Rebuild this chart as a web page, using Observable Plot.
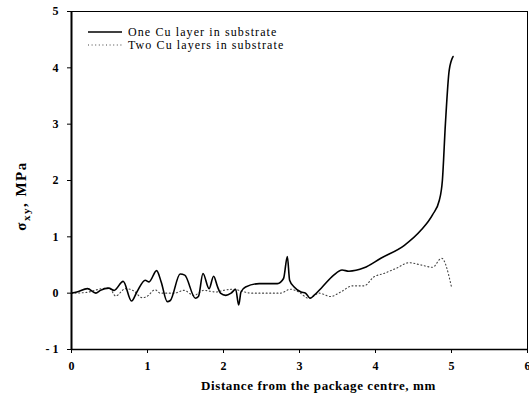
<!DOCTYPE html>
<html>
<head>
<meta charset="utf-8">
<script src="https://cdn.jsdelivr.net/npm/d3@7"></script>
<script src="https://cdn.jsdelivr.net/npm/@observablehq/plot@0.6"></script>
<style>
  html, body { margin: 0; padding: 0; background: #fff; }
  #chart svg { display: block; }
</style>
</head>
<body>
<div id="chart"></div>
<script>
// One Cu layer in substrate (solid)
const oneX = [0, 0.07, 0.21, 0.32, 0.38, 0.49, 0.56, 0.68, 0.79, 0.86, 0.97, 1.02, 1.12, 1.18, 1.26, 1.30, 1.43, 1.49, 1.63, 1.67, 1.73, 1.81, 1.87, 1.92, 1.96, 2.03, 2.10, 2.16, 2.20, 2.23, 2.29, 2.47, 2.71, 2.79, 2.84, 2.87, 2.93, 3.02, 3.08, 3.14, 3.19, 3.30, 3.45, 3.56, 3.65, 3.85, 4.07, 4.38, 4.60, 4.75, 4.84, 4.88, 4.92, 4.97, 5.02];
const oneY = [0, 0.02, 0.08, 0.0, 0.05, 0.09, 0.05, 0.21, -0.14, 0.02, 0.23, 0.20, 0.40, 0.20, -0.15, -0.13, 0.34, 0.32, -0.09, -0.06, 0.35, 0.08, 0.30, 0.12, 0.0, -0.04, 0.0, 0.07, -0.21, 0.02, 0.11, 0.17, 0.17, 0.26, 0.65, 0.23, 0.11, 0.02, 0.0, -0.09, -0.04, 0.11, 0.32, 0.41, 0.39, 0.45, 0.62, 0.85, 1.12, 1.39, 1.65, 2.0, 3.01, 3.96, 4.2];
// Two Cu layers in substrate (dotted)
const twoX = [0, 0.18, 0.40, 0.50, 0.58, 0.71, 0.82, 0.93, 0.99, 1.10, 1.17, 1.35, 1.48, 1.61, 1.74, 1.90, 2.0, 2.14, 2.23, 2.36, 2.66, 2.75, 2.88, 2.99, 3.12, 3.26, 3.41, 3.54, 3.70, 3.85, 3.98, 4.11, 4.27, 4.44, 4.60, 4.75, 4.87, 5.0];
const twoY = [0, 0.01, 0.08, 0.09, -0.05, 0.08, 0.04, -0.08, -0.06, 0.06, 0.0, 0.0, 0.05, -0.04, 0.05, 0.02, 0.05, 0.07, 0.04, 0.0, 0.0, 0.0, 0.07, 0.02, -0.09, 0.0, -0.06, 0.02, 0.13, 0.13, 0.29, 0.35, 0.44, 0.54, 0.50, 0.46, 0.62, 0.11];

const xTicks = [0, 1, 2, 3, 4, 5, 6];
const yTicks = [-1, 0, 1, 2, 3, 4, 5];
const seriesNames = ["One Cu layer in substrate", "Two Cu layers in substrate"];
const xLabel = "Distance from the package centre, mm";

const one = oneX.map((x, i) => ({x, y: oneY[i]}));
const two = twoX.map((x, i) => ({x, y: twoY[i]}));

const FONT = "'Liberation Serif', 'Times New Roman', serif";
const W = 529, H = 410;
const plot = Plot.plot({
  width: W, height: H,
  marginLeft: 71, marginRight: 2, marginTop: 11, marginBottom: 61,
  style: {fontFamily: FONT, fontSize: "12px", fontWeight: "bold", color: "#000", background: "#fff"},
  x: {domain: [0, 6], ticks: xTicks, tickFormat: d => d3.format("d")(d), tickSize: 4, tickPadding: 8, label: null},
  y: {domain: [-1, 5], ticks: yTicks, tickFormat: d => d < 0 ? "- " + Math.abs(d) : String(d), tickSize: 4, tickPadding: 9, label: null},
  marks: [
    Plot.frame({stroke: "#000", strokeWidth: 1}),
    Plot.ruleX([0], {stroke: "#000", strokeWidth: 2}),
    Plot.ruleY([-1], {stroke: "#000", strokeWidth: 1.5}),
    Plot.line(two, {x: "x", y: "y", stroke: "#444", strokeWidth: 1.1, strokeDasharray: "1,2.6", strokeLinecap: "round", curve: "monotone-x"}),
    Plot.line(one, {x: "x", y: "y", stroke: "#000", strokeWidth: 1.6, curve: "monotone-x"}),
    Plot.text([xLabel], {text: d => d, frameAnchor: "bottom", dy: 36, dx: 19, fontSize: 13, fontWeight: "bold", lineAnchor: "middle"})
  ]
});
document.getElementById("chart").appendChild(plot);

const svg = d3.select(plot);
svg.selectAll("text").filter(function() { return this.textContent === xLabel; }).style("letter-spacing", "0.6px");

// y axis label with subscript
const yl = svg.append("text")
  .attr("transform", "translate(26,196) rotate(-90)")
  .attr("text-anchor", "middle")
  .attr("font-family", FONT)
  .attr("font-weight", "bold")
  .attr("font-size", 15)
  .attr("fill", "#000")
  .style("letter-spacing", "1.5px");
yl.append("tspan").text("σ");
yl.append("tspan").attr("font-size", 11).attr("dy", 4).text("xy");
yl.append("tspan").attr("dy", -4).text(", MPa");

// legend
const lg = svg.append("g")
  .attr("font-family", FONT)
  .attr("font-size", 12)
  .attr("font-weight", "normal")
  .attr("text-anchor", "start")
  .attr("fill", "#000")
  .style("letter-spacing", "1.1px");
const rows = [
  {name: seriesNames[0], dash: null, stroke: "#000", w: 1.4},
  {name: seriesNames[1], dash: "1,2.6", stroke: "#444", w: 1.1}
];
rows.forEach((r, i) => {
  const cy = 32 + i * 13;
  lg.append("line").attr("x1", 88).attr("x2", 122).attr("y1", cy).attr("y2", cy)
    .attr("stroke", r.stroke).attr("stroke-width", r.w)
    .attr("stroke-dasharray", r.dash);
  lg.append("text").attr("x", 128).attr("y", cy).attr("dy", "0.35em").text(r.name);
});
</script>
</body>
</html>
